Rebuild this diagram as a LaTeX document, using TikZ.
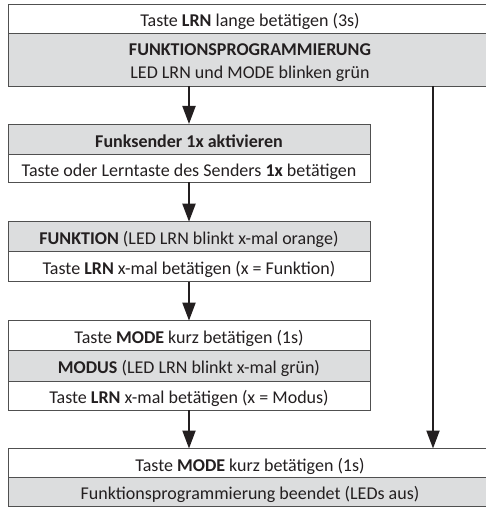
\documentclass[tikz,border=0pt]{standalone}
\usepackage{fontspec}
\setmainfont{Carlito}
\usetikzlibrary{arrows.meta}
\definecolor{rowgray}{HTML}{DCDDDE}
\definecolor{edge}{HTML}{505050}
\definecolor{ink}{HTML}{231F20}
\begin{document}
\begin{tikzpicture}[x=1pt,y=-1pt,
  row/.style={draw=edge,line width=0.9pt,inner sep=0pt,outer sep=0pt,rectangle,
    text=ink,font=\fontsize{18}{22}\selectfont,text height=18pt,text depth=2pt},
  gray/.style={fill=rowgray},
  white/.style={fill=white},
  lbl/.style={inner sep=0pt,outer sep=0pt,anchor=base,text=ink,font=\fontsize{18}{22}\selectfont},
  flow/.style={draw=ink,line width=2pt,-{Triangle[length=18pt,width=13pt]}}]
\useasboundingbox (0,0) rectangle (485,508);
% box 1
\node[row,white,minimum width=484pt,minimum height=28.8pt] (b1a) at (250,18.8) {Taste \textbf{LRN} lange betätigen (3s)};
\node[row,gray,minimum width=484pt,minimum height=53pt] (b1b) at (250,59.7) {};
\node[lbl] (b1t1) at (250,56) {\textbf{FUNKTIONSPROGRAMMIERUNG}};
\node[lbl] (b1t2) at (250,79) {LED LRN und MODE blinken grün};
% box 2
\node[row,gray,minimum width=362pt,minimum height=30pt] (b2a) at (189,139) {\textbf{Funksender 1x aktivieren}};
\node[row,white,minimum width=362pt,minimum height=28pt] (b2b) at (189,168) {Taste oder Lerntaste des Senders \textbf{1x} betätigen};
% box 3
\node[row,gray,minimum width=362pt,minimum height=30pt] (b3a) at (189,236.7) {\textbf{FUNKTION} (LED LRN blinkt x-mal orange)};
\node[row,white,minimum width=362pt,minimum height=30pt] (b3b) at (189,266.7) {Taste \textbf{LRN} x-mal betätigen (x = Funktion)};
% box 4
\node[row,white,minimum width=362pt,minimum height=29.3pt] (b4a) at (189,335.3) {Taste \textbf{MODE} kurz betätigen (1s)};
\node[row,gray,minimum width=362pt,minimum height=31pt] (b4b) at (189,365.5) {\textbf{MODUS} (LED LRN blinkt x-mal grün)};
\node[row,white,minimum width=362pt,minimum height=29pt] (b4c) at (189,395.5) {Taste \textbf{LRN} x-mal betätigen (x = Modus)};
% box 5
\node[row,white,minimum width=484pt,minimum height=29pt] (b5a) at (250,463) {Taste \textbf{MODE} kurz betätigen (1s)};
\node[row,gray,minimum width=484pt,minimum height=29.5pt] (b5b) at (250,491.75) {Funktionsprogrammierung beendet (LEDs aus)};
% connectors
\coordinate (rtop) at (433,86);
\draw[flow] (b2a.north |- b1b.south) -- (b2a.north);
\draw[flow] (b2b.south) -- (b3a.north);
\draw[flow] (b3b.south) -- (b4a.north);
\draw[flow] (b4c.south) -- (b5a.north -| b4c.south);
\draw[flow] (rtop) -- (rtop |- b5a.north);
\end{tikzpicture}
\end{document}
